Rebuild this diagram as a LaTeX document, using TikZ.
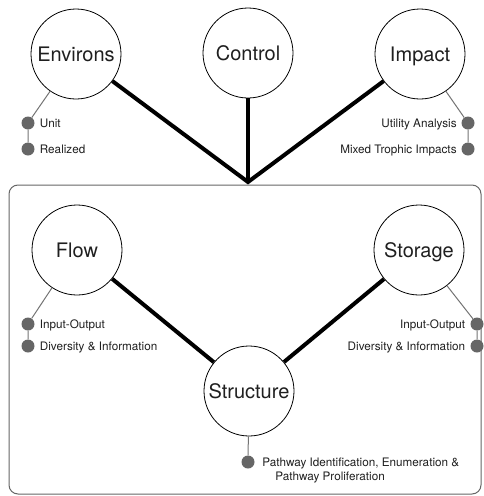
\documentclass[tikz,border=0pt]{standalone}
\usepackage{fontspec}
\setmainfont{TeX Gyre Heros}
\begin{document}
\begin{tikzpicture}[x=1pt,y=-1pt,
  big/.style={circle,draw=black,line width=0.8pt,minimum size=90pt,inner sep=0pt,
    font=\fontsize{20}{24}\selectfont,text=black!88,text height=14.4pt,text depth=0pt},
  dot/.style={circle,fill=black!60,minimum size=13pt,inner sep=0pt},
  heavy/.style={line width=4pt,black,line join=miter},
  lite/.style={line width=1pt,black!55},
  lbl/.style={font=\fontsize{11.7}{14}\selectfont,text=black!88,inner sep=0pt},
  lblL/.style={lbl,anchor=base west},
  lblR/.style={lbl,anchor=base east},
]
\useasboundingbox (0,0) rectangle (483,496);
\draw[black!60,line width=1pt,rounded corners=9pt] (9,185) rectangle (481,494);

\node[big] (env) at (76,54) {Environs};
\node[big] (ctl) at (248,53) {Control};
\node[big] (imp) at (420,54) {Impact};
\node[big] (flow) at (77,250) {Flow};
\node[big] (sto) at (419,250) {Storage};
\node[big] (str) at (249,391) {Structure};
\coordinate (j) at (248,182);

\draw[heavy] (env) -- (j) -- (imp);
\draw[heavy] (ctl) -- (j);
\draw[heavy] (flow) -- (str);
\draw[heavy] (sto) -- (str);

% dots
\node[dot] (e1) at (28,123) {};
\node[dot] (e2) at (28,149) {};
\node[dot] (i1) at (468,123) {};
\node[dot] (i2) at (468,149) {};
\node[dot] (f1) at (28,324) {};
\node[dot] (f2) at (28,346) {};
\node[dot] (s1) at (477,324) {};
\node[dot] (s2) at (477,346) {};
\node[dot] (p1) at (248,462) {};

\draw[lite] (env) -- (e1) -- (e2);
\draw[lite] (imp) -- (i1) -- (i2);
\draw[lite] (flow) -- (f1) -- (f2);
\draw[lite] (sto) -- (s1) -- (s2);
\draw[lite] (str) -- (p1);

\node[lblL] (te1) at ([xshift=5pt,yshift=-4.2pt]e1.east) {Unit};
\node[lblL] (te2) at ([xshift=5pt,yshift=-4.2pt]e2.east) {Realized};
\node[lblR] (ti1) at ([xshift=-4.5pt,yshift=-4.2pt]i1.west) {Utility Analysis};
\node[lblR] (ti2) at ([xshift=-4.5pt,yshift=-4.2pt]i2.west) {Mixed Trophic Impacts};
\node[lblL] (tf1) at ([xshift=5pt,yshift=-4.2pt]f1.east) {Input-Output};
\node[lblL] (tf2) at ([xshift=5pt,yshift=-4.2pt]f2.east) {Diversity \& Information};
\node[lblR] (ts1) at ([xshift=-5pt,yshift=-4.2pt]s1.west) {Input-Output};
\node[lblR] (ts2) at ([xshift=-5pt,yshift=-4.2pt]s2.west) {Diversity \& Information};
\node[lblL] (tp1) at ([xshift=7.5pt,yshift=-4.2pt]p1.east) {Pathway Identification, Enumeration \&};
\node[lblL] (tp2) at ([xshift=20.5pt,yshift=-18.2pt]p1.east) {Pathway Proliferation};
\end{tikzpicture}
\end{document}
